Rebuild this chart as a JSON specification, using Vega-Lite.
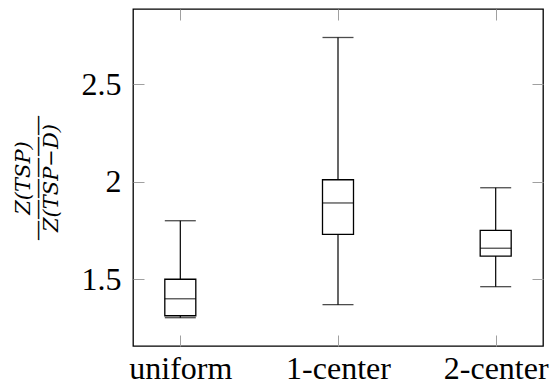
{
  "$schema": "https://vega.github.io/schema/vega-lite/v6.json",
  "width": 410,
  "height": 337,
  "autosize": {"type": "none"},
  "padding": {"left": 133, "top": 9, "right": 8, "bottom": 42},
  "background": "white",
  "config": {
    "font": "serif",
    "view": {"stroke": "black", "strokeWidth": 1.3},
    "axis": {"domain": false, "grid": false, "tickColor": "#a0a0a0", "tickWidth": 1, "labelColor": "black", "labelFont": "Times New Roman, Liberation Serif, serif", "labelFontSize": 32}
  },
  "data": {
    "values": [
      {"dist": "uniform", "min": 1.303, "q1": 1.313, "median": 1.40, "q3": 1.50, "max": 1.80},
      {"dist": "1-center", "min": 1.370, "q1": 1.730, "median": 1.891, "q3": 2.010, "max": 2.739},
      {"dist": "2-center", "min": 1.462, "q1": 1.619, "median": 1.659, "q3": 1.751, "max": 1.969}
    ]
  },
  "resolve": {"axis": {"x": "independent", "y": "independent"}},
  "layer": [
    {
      "mark": {"type": "rule", "color": "black", "strokeWidth": 1.2},
      "encoding": {
        "x": {"field": "dist", "type": "nominal", "sort": null,
              "scale": {"type": "point", "padding": 0.3},
              "axis": {"orient": "bottom", "title": null, "labelAngle": 0, "tickSize": -11, "labelPadding": 43, "labelBaseline": "alphabetic"}},
        "y": {"field": "min", "type": "quantitative",
              "scale": {"domain": [1.158, 2.885], "nice": false, "zero": false},
              "axis": {"orient": "left", "values": [1.5, 2, 2.5], "tickSize": -11, "labelPadding": 23,
                       "labelExpr": "datum.value == 2 ? '2' : datum.label",
                       "title": ["Z(TSP)", "——————", "Z(TSP−D)"],
                       "titleFont": "DejaVu Serif, serif", "titleFontStyle": "italic", "titleFontWeight": "normal",
                       "titleFontSize": 21, "titleLineHeight": 14, "titleColor": "black",
                       "titleX": -110, "titleBaseline": "middle"}},
        "y2": {"field": "max"}
      }
    },
    {
      "mark": {"type": "tick", "color": "black", "size": 31, "thickness": 1.3},
      "encoding": {
        "x": {"field": "dist", "type": "nominal", "sort": null, "axis": null},
        "y": {"field": "min", "type": "quantitative", "axis": null}
      }
    },
    {
      "mark": {"type": "tick", "color": "black", "size": 31, "thickness": 1.3},
      "encoding": {
        "x": {"field": "dist", "type": "nominal", "sort": null, "axis": null},
        "y": {"field": "max", "type": "quantitative", "axis": null}
      }
    },
    {
      "mark": {"type": "bar", "width": 31, "fill": "white", "stroke": "black", "strokeWidth": 1.3},
      "encoding": {
        "x": {"field": "dist", "type": "nominal", "sort": null,
              "axis": {"orient": "top", "title": null, "labels": false, "tickSize": -11}},
        "y": {"field": "q1", "type": "quantitative",
              "axis": {"orient": "right", "title": null, "labels": false, "values": [1.5, 2, 2.5], "tickSize": -11}},
        "y2": {"field": "q3"}
      }
    },
    {
      "mark": {"type": "tick", "color": "black", "size": 31, "thickness": 1.3},
      "encoding": {
        "x": {"field": "dist", "type": "nominal", "sort": null, "axis": null},
        "y": {"field": "median", "type": "quantitative", "axis": null}
      }
    }
  ]
}
